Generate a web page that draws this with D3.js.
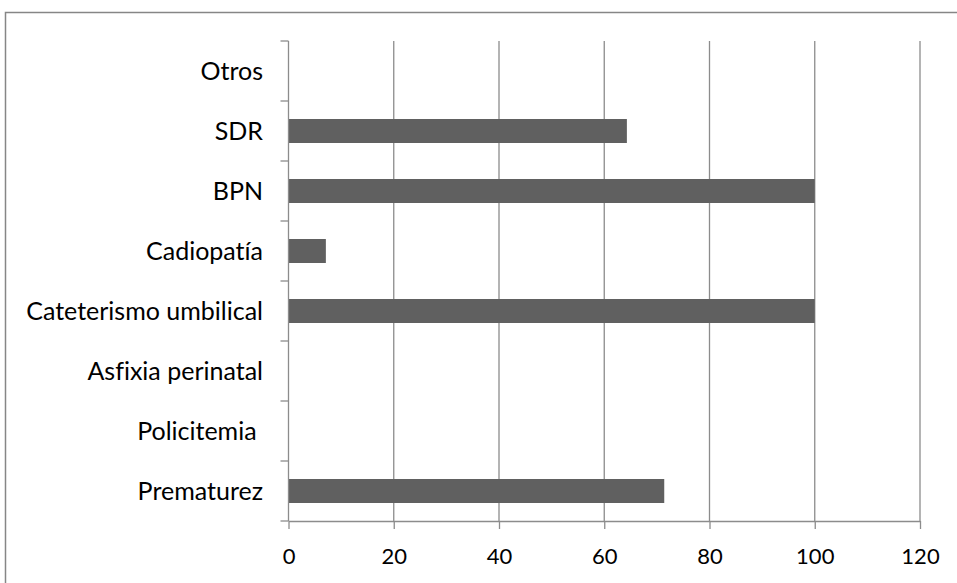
<!DOCTYPE html>
<html>
<head>
<meta charset="utf-8">
<script src="https://cdn.jsdelivr.net/npm/d3@7"></script>
<style>
  html, body { margin: 0; padding: 0; background: #fff; }
  svg text { font-family: Lato, "Open Sans", sans-serif; fill: #000; white-space: pre;
             font-variant-ligatures: none; font-feature-settings: "liga" 0; }
</style>
</head>
<body>
<svg id="chart" width="957" height="583"></svg>
<script>
// Risk factors, listed bottom to top as on the vertical axis
const categories = ["Prematurez", "Policitemia ", "Asfixia perinatal", "Cateterismo umbilical",
                    "Cadiopatía", "BPN", "SDR", "Otros"];
const values = [71.4, 0, 0, 100, 7.1, 100, 64.3, 0];
const xTicks = [0, 20, 40, 60, 80, 100, 120];

const svg = d3.select("#chart");
const W = 957, H = 583;
const margin = { left: 288.5, right: W - 920, top: 41, bottom: H - 521 };

// outer frame
svg.append("rect")
  .attr("x", 5.5).attr("y", 12.5)
  .attr("width", W + 10).attr("height", H + 10)
  .attr("fill", "none").attr("stroke", "#868686").attr("stroke-width", 1.5);

const x = d3.scaleLinear().domain([0, 120]).range([margin.left, W - margin.right]);
const y = d3.scaleBand().domain(categories.slice().reverse())
  .range([margin.top, H - margin.bottom]).paddingInner(0.6).paddingOuter(0.3);
const yBand = d3.scaleBand().domain(categories.slice().reverse())
  .range([margin.top, H - margin.bottom]);

const gridColor = "#8c8c8c";

// vertical gridlines
svg.append("g").selectAll("line")
  .data(xTicks.filter(d => d > 0))
  .join("line")
  .attr("x1", d => x(d)).attr("x2", d => x(d))
  .attr("y1", margin.top).attr("y2", H - margin.bottom)
  .attr("stroke", gridColor).attr("stroke-width", 1.3);

// bars
svg.append("g").selectAll("rect")
  .data(categories.map((c, i) => ({ c, v: values[i] })).filter(d => d.v > 0))
  .join("rect")
  .attr("x", x(0))
  .attr("y", d => y(d.c))
  .attr("width", d => x(d.v) - x(0))
  .attr("height", y.bandwidth())
  .attr("fill", "#606060");

// x axis
const xAxis = svg.append("g")
  .attr("transform", `translate(0,${H - margin.bottom})`)
  .call(d3.axisBottom(x).tickValues(xTicks).tickSize(8).tickPadding(19).tickSizeOuter(0));
xAxis.select(".domain").attr("stroke", gridColor).attr("stroke-width", 1.3);
xAxis.selectAll(".tick line").attr("stroke", gridColor).attr("stroke-width", 1.3);
xAxis.selectAll(".tick text").attr("font-size", 22).attr("font-family", "Lato, sans-serif");

// y axis: ticks sit on band boundaries
const yAxisG = svg.append("g");
yAxisG.append("line")
  .attr("x1", x(0)).attr("x2", x(0))
  .attr("y1", margin.top).attr("y2", H - margin.bottom)
  .attr("stroke", gridColor).attr("stroke-width", 1.3);
const bounds = yBand.domain().map(c => yBand(c)).concat([H - margin.bottom]);
yAxisG.selectAll("line.tk").data(bounds).join("line")
  .attr("class", "tk")
  .attr("x1", x(0) - 8).attr("x2", x(0))
  .attr("y1", d => d).attr("y2", d => d)
  .attr("stroke", gridColor).attr("stroke-width", 1.3);
yAxisG.selectAll("text").data(categories).join("text")
  .attr("x", 263)
  .attr("y", d => yBand(d) + yBand.bandwidth() / 2)
  .attr("dy", "0.36em")
  .attr("text-anchor", "end")
  .attr("font-size", 25)
  .text(d => d);
</script>
</body>
</html>
